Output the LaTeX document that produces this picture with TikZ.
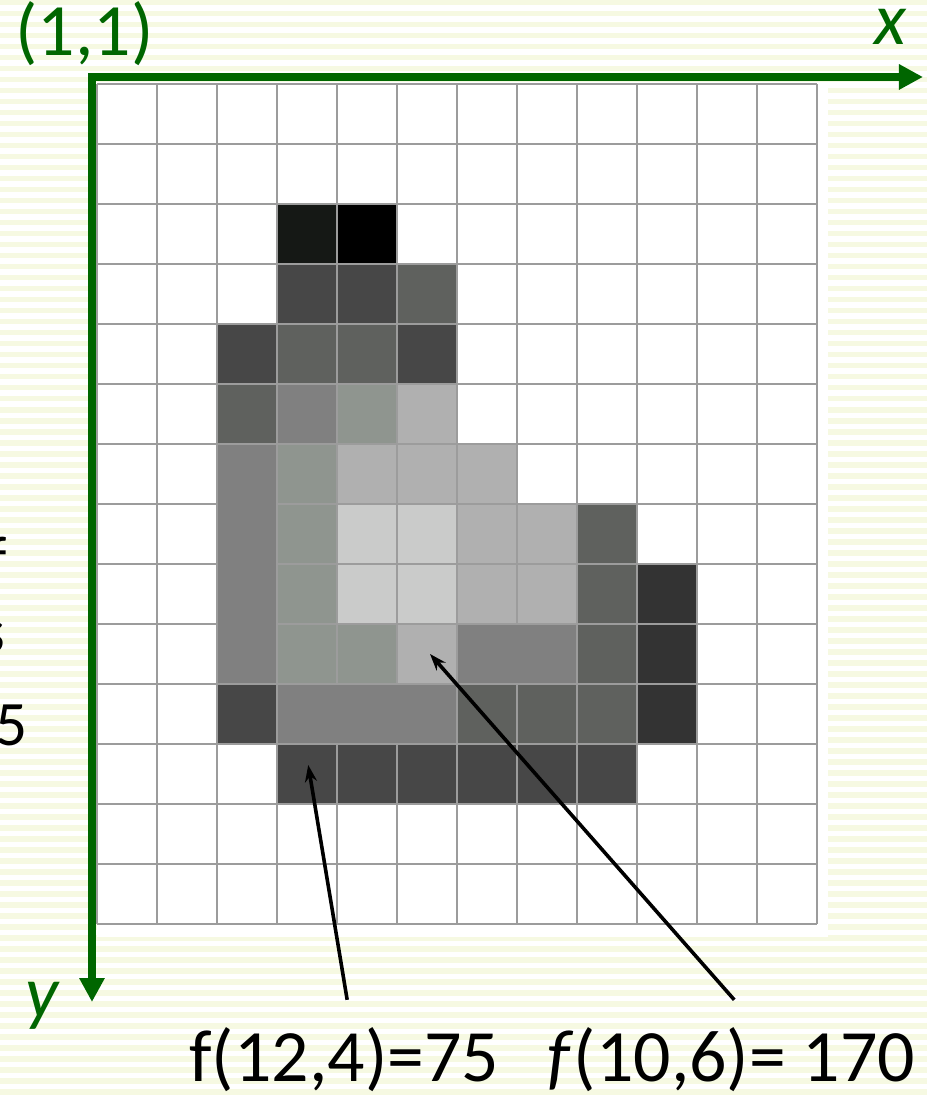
\documentclass[tikz,border=0pt]{standalone}
\usepackage{fontspec}
\setmainfont{Carlito}
\usepackage{tikz}
\usetikzlibrary{arrows.meta}
\definecolor{axisGreen}{HTML}{006600}
\definecolor{stripeColor}{HTML}{F6F9E2}
\definecolor{gridColor}{HTML}{9C9C9C}
\definecolor{pixA}{HTML}{151815}
\definecolor{pixB}{HTML}{474747}
\definecolor{pixC}{HTML}{5F615E}
\definecolor{pixD}{HTML}{808080}
\definecolor{pixE}{HTML}{8F958F}
\definecolor{pixF}{HTML}{B0B0B0}
\definecolor{pixG}{HTML}{CACBCA}
\definecolor{pixH}{HTML}{333333}

\begin{document}
\begin{tikzpicture}[x=1cm, y=-1cm,
    bigText/.style={font=\fontsize{35}{42}\selectfont, inner sep=0pt},
    sideText/.style={font=\fontsize{30}{36}\selectfont, inner sep=0pt},
    cellEdge/.style={draw=gridColor, line width=1pt},
    axisLine/.style={axisGreen, line width=3.8pt,
        {Triangle[length=0.4cm, width=0.4cm]}-{Triangle[length=0.4cm, width=0.4cm]}},
    pointer/.style={line width=1.7pt, -{Stealth[length=0.28cm, width=0.2cm]}}]
    \useasboundingbox (0,0) rectangle (15.45,18.25);
    \foreach \s in {0,...,99}
        \fill[stripeColor] (0,\s*11/60) rectangle (15.45,\s*11/60+5.5/60);
    \fill[white] (1.617,1.4) rectangle (13.8,15.62);

    \begin{scope}[shift={(1.617,1.4)}]
        \foreach \i in {0,...,12} \draw[cellEdge] (\i,0) -- (\i,14);
        \foreach \j in {0,...,14} \draw[cellEdge] (0,\j) -- (12,\j);
        \foreach \c/\r/\tone in {4/3/pixA, 5/3/black,
                4/4/pixB, 5/4/pixB, 6/4/pixC,
                3/5/pixB, 4/5/pixC, 5/5/pixC, 6/5/pixB,
                3/6/pixC, 4/6/pixD, 5/6/pixE, 6/6/pixF,
                4/7/pixE, 5/7/pixF, 6/7/pixF, 7/7/pixF,
                4/8/pixE, 5/8/pixG, 6/8/pixG, 7/8/pixF, 8/8/pixF, 9/8/pixC,
                4/9/pixE, 5/9/pixG, 6/9/pixG, 7/9/pixF, 8/9/pixF, 9/9/pixC, 10/9/pixH,
                4/10/pixE, 5/10/pixE, 6/10/pixF, 9/10/pixC, 10/10/pixH,
                3/11/pixB, 7/11/pixC, 8/11/pixC, 9/11/pixC, 10/11/pixH,
                4/12/pixB, 5/12/pixB, 6/12/pixB, 7/12/pixB, 8/12/pixB, 9/12/pixB}
            \filldraw[cellEdge, fill=\tone] (\c-1,\r-1) rectangle (\c,\r);
        \filldraw[cellEdge, fill=pixD] (2,6) rectangle (3,10);
        \filldraw[cellEdge, fill=pixD] (3,10) rectangle (6,11);
        \filldraw[cellEdge, fill=pixD] (6,9) rectangle (8,10);
        \coordinate (f124) at (3.52,11.35);
        \coordinate (f106) at (5.55,9.5);
    \end{scope}

    \coordinate (corner) at (1.533,1.283);
    \coordinate (xend) at (15.383,1.283);
    \coordinate (yend) at (1.533,16.7);
    \draw[axisLine] (xend) -- (corner) -- (yend);

    \node[bigText, axisGreen, anchor=base west] (start) at (0.25,0.917) {(1,1)};
    \node[bigText, axisGreen, anchor=base west] (xlab) at (14.56,0.75) {\itshape x};
    \node[bigText, axisGreen, anchor=base west] (ylab) at (0.42,16.95) {\itshape y};

    \node[sideText, anchor=base east] (cutF) at (0.12,9.67) {f};
    \node[sideText, anchor=base east] (cutS) at (0.1,10.88) {s};
    \node[sideText, anchor=base east] (cutFive) at (0.47,12.42) {5};

    \node[bigText, anchor=base west] (lab124) at (3.15,18.03) {f(12,4)=75};
    \node[bigText, anchor=base west] (lab106) at (9.12,18.03) {\textit{f}(10,6)= 170};

    \draw[pointer] ([xshift=0.05cm, yshift=0.46cm]lab124.north) -- (f124);
    \draw[pointer] ([xshift=0.05cm, yshift=0.46cm]lab106.north) -- (f106);
\end{tikzpicture}
\end{document}
